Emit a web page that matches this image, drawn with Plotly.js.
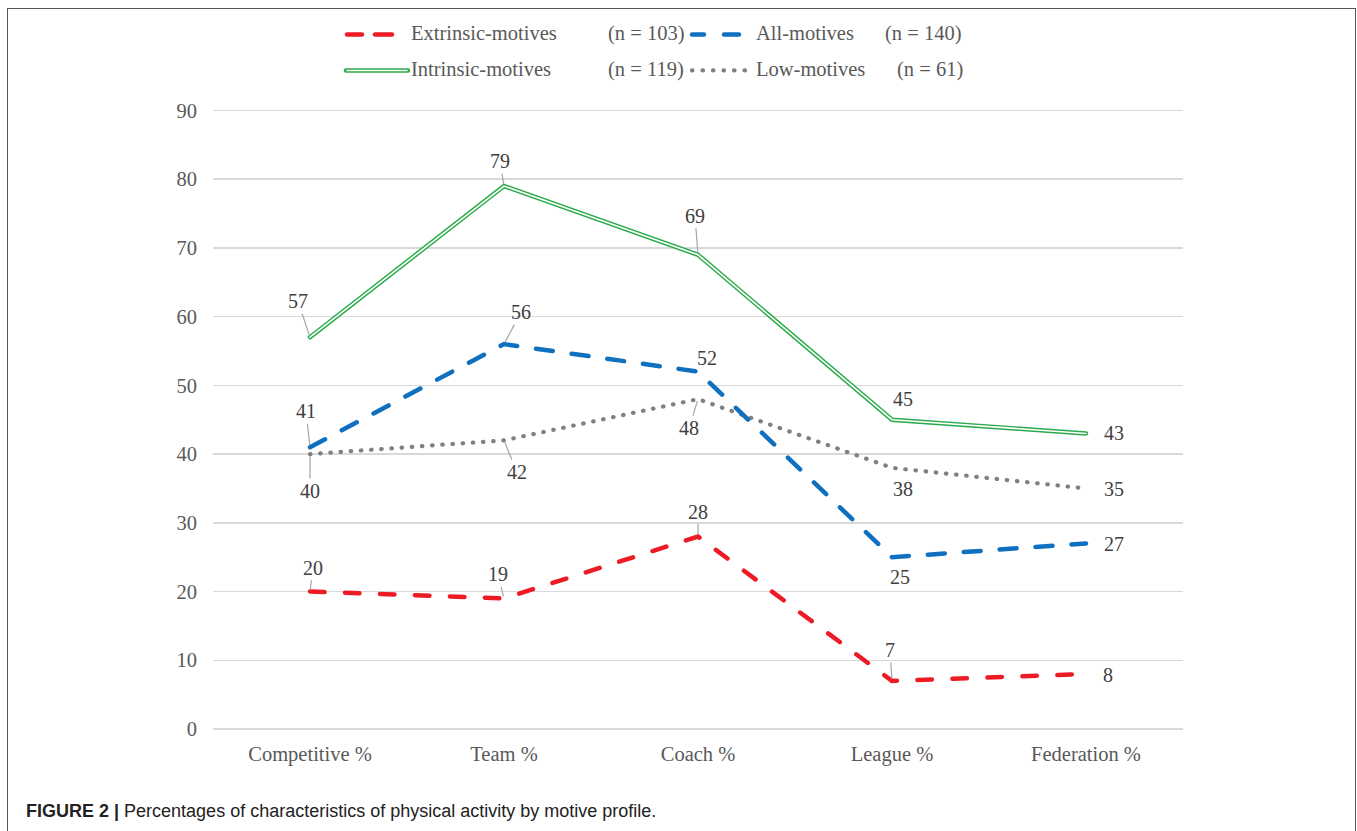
<!DOCTYPE html>
<html>
<head>
<meta charset="utf-8">
<script src="https://cdn.plot.ly/plotly-3.0.1.min.js"></script>
<style>
  html, body { margin: 0; padding: 0; background: #fff; overflow: hidden; }
  #chart { width: 1357px; height: 831px; }
  #frame { position: absolute; left: 7px; top: 8px; width: 1349px; height: 900px;
           border: 1.5px solid #555; box-sizing: border-box; pointer-events: none; }
  #chart .scatterlayer path.js-line { stroke-linecap: round; }
  #chart .shapelayer path { stroke-linecap: round; }
</style>
</head>
<body>
<div id="chart"></div>
<div id="frame"></div>
<script>
// ---- data ----
const categories = ["Competitive %", "Team %", "Coach %", "League %", "Federation %"];
const extrinsic = [20, 19, 28, 7, 8];
const allMotives = [41, 56, 52, 25, 27];
const intrinsic = [57, 79, 69, 45, 43];
const lowMotives = [40, 42, 48, 38, 35];
const seriesNames = ["Extrinsic-motives", "All-motives", "Intrinsic-motives", "Low-motives"];
const seriesN = ["(n = 103)", "(n = 140)", "(n = 119)", "(n = 61)"];
const yTicks = [0, 10, 20, 30, 40, 50, 60, 70, 80, 90];

// ---- styles ----
const RED = "#ED1C24", BLUE = "#1070C0", GREEN = "#2AAA4A", GRAY = "#808080";
const serif = "Liberation Serif, Times New Roman, serif";
const RED_DASH = "14.5px,20.5px", BLUE_DASH = "17px,19px", DOT = "0.5px,9.7px";

const traces = [
  {x: categories, y: lowMotives, mode: "lines", name: seriesNames[3],
   line: {color: GRAY, width: 4.2, dash: DOT}, hoverinfo: "skip"},
  {x: categories, y: extrinsic, mode: "lines", name: seriesNames[0],
   line: {color: RED, width: 4.5, dash: RED_DASH}, hoverinfo: "skip"},
  {x: categories, y: intrinsic, mode: "lines", name: seriesNames[2],
   line: {color: GREEN, width: 4.5}, hoverinfo: "skip"},
  {x: categories, y: intrinsic, mode: "lines", name: seriesNames[2] + " inner",
   line: {color: "#ffffff", width: 1.6}, hoverinfo: "skip"},
  {x: categories, y: allMotives, mode: "lines", name: seriesNames[1],
   line: {color: BLUE, width: 4.5, dash: BLUE_DASH}, hoverinfo: "skip"}
];

// label offsets [ax, ay, leader]
const labelCfg = {
  intrinsic: [[-12,-36,1],[-4,-25,1],[-3,-39,1],[11,-21,0],[28,0,0]],
  allMotives: [[-4,-36,1],[17,-32,1],[9,-14,0],[8,20,0],[28,1,0]],
  lowMotives: [[0,37,1],[13,32,1],[-9,29,1],[11,21,0],[28,1,0]],
  extrinsic: [[3,-24,1],[-6,-24,1],[0,-25,1],[-2,-31,1],[22,1,0]]
};
const seriesData = {intrinsic, allMotives, lowMotives, extrinsic};

const annotations = [];
Object.keys(seriesData).forEach(k => {
  seriesData[k].forEach((v, i) => {
    const c = labelCfg[k][i];
    annotations.push({
      x: categories[i], y: v, xref: "x", yref: "y",
      text: String(v), showarrow: true, arrowhead: 0, arrowwidth: 1.2,
      arrowcolor: c[2] ? "#A6A6A6" : "rgba(0,0,0,0)",
      ax: c[0], ay: c[1], standoff: 2,
      font: {family: serif, size: 20, color: "#404040"}
    });
  });
});

// plot geometry (pixels): y=0 at B, y=90 at 110
const L = 213, R = 1183, B = 729;
const UNIT = (B - 110) / 90;
const YMAX = 90.5;
const TP = B - YMAX * UNIT;   // actual top of plot area
const px = p => (p - L) / (R - L);
const py = p => (B - p) / (B - TP);
const shapes = [
  {type: "line", xref: "paper", yref: "paper", x0: px(347), x1: px(362), y0: py(34), y1: py(34), line: {color: RED, width: 4.5}},
  {type: "line", xref: "paper", yref: "paper", x0: px(375), x1: px(392), y0: py(34), y1: py(34), line: {color: RED, width: 4.5}},
  {type: "line", xref: "paper", yref: "paper", x0: px(692), x1: px(704), y0: py(34), y1: py(34), line: {color: BLUE, width: 4.5}},
  {type: "line", xref: "paper", yref: "paper", x0: px(724), x1: px(739), y0: py(34), y1: py(34), line: {color: BLUE, width: 4.5}},
  {type: "line", xref: "paper", yref: "paper", x0: px(346), x1: px(408), y0: py(70), y1: py(70), line: {color: GREEN, width: 4.5}},
  {type: "line", xref: "paper", yref: "paper", x0: px(347), x1: px(407), y0: py(70), y1: py(70), line: {color: "#fff", width: 1.6}},
  {type: "line", xref: "paper", yref: "paper", x0: px(692), x1: px(745), y0: py(70), y1: py(70), line: {color: GRAY, width: 4.2, dash: "0.5px,10px"}}
];
const legPos = [[409, 606, 33], [754, 883, 33], [409, 606, 69], [754, 895, 69]];
seriesNames.forEach((nm, i) => {
  const p = legPos[i];
  annotations.push({xref: "paper", yref: "paper", x: px(p[0]), y: py(p[2]), xanchor: "left", yanchor: "middle",
    text: nm, showarrow: false, font: {family: serif, size: 20.5, color: "#595959"}});
  annotations.push({xref: "paper", yref: "paper", x: px(p[1]), y: py(p[2]), xanchor: "left", yanchor: "middle",
    text: seriesN[i], showarrow: false, font: {family: serif, size: 20.5, color: "#595959"}});
});
// caption
annotations.push({xref: "paper", yref: "paper", x: px(24), y: py(811), xanchor: "left", yanchor: "middle",
  text: "<b>FIGURE 2 |</b> Percentages of characteristics of physical activity by motive profile.",
  showarrow: false, font: {family: "Liberation Sans Narrow, Arial Narrow, Liberation Sans, Arial, sans-serif", size: 18, color: "#222"}});

const layout = {
  width: 1357, height: 831,
  margin: {l: L, r: 1357 - R, t: TP, b: 831 - B, pad: 0},
  paper_bgcolor: "#fff", plot_bgcolor: "#fff",
  showlegend: false,
  xaxis: {type: "category", range: [-0.5, 4.5], showgrid: false, zeroline: false, showline: false,
          ticks: "", ticklabelstandoff: 10, tickfont: {family: serif, size: 20.5, color: "#595959"}},
  yaxis: {range: [0, YMAX], tickvals: yTicks, showgrid: true, gridcolor: "#D9D9D9", gridwidth: 1.5,
          zeroline: true, zerolinecolor: "#D9D9D9", zerolinewidth: 1.5, showline: false, ticks: "",
          ticklabelstandoff: 15, tickfont: {family: serif, size: 20.5, color: "#595959"}},
  annotations, shapes
};

Plotly.newPlot("chart", traces, layout, {staticPlot: true, displayModeBar: false});
</script>
</body>
</html>
